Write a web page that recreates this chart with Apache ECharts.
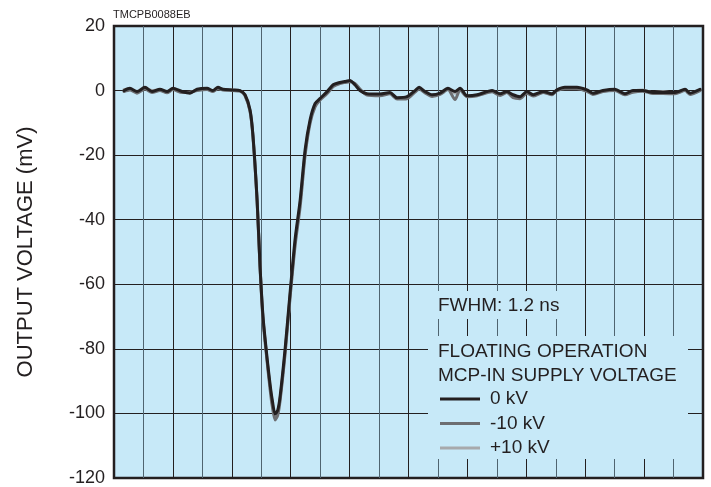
<!DOCTYPE html>
<html>
<head>
<meta charset="utf-8">
<script src="https://cdn.jsdelivr.net/npm/echarts@6/dist/echarts.min.js"></script>
<style>
html,body{margin:0;padding:0;background:#fff;}
#c{width:711px;height:487px;}
</style>
</head>
<body>
<div id="c"></div>
<script>
// time (ns) samples
var times = [0.34,0.54,0.78,1.05,1.29,1.56,1.80,2.00,2.31,2.58,2.82,3.16,3.36,3.53,3.70,4.04,4.28,4.45,4.62,4.72,4.86,4.96,5.06,5.20,5.30,5.37,5.47,5.56,5.64,5.81,5.98,6.15,6.32,6.49,6.66,6.83,6.99,7.23,7.44,7.67,7.84,8.01,8.18,8.35,8.59,9.03,9.37,9.61,9.95,10.22,10.36,10.56,10.80,11.07,11.34,11.58,11.75,11.99,12.33,12.84,13.11,13.34,13.55,13.79,14.02,14.23,14.57,14.87,15.04,15.31,15.72,16.06,16.26,16.60,17.01,17.35,17.62,17.96,18.30,18.64,19.05,19.39,19.56,19.90];
// output voltage (mV)
var v0kV = [0,0.7,-0.3,1,-0.3,0.4,-0.3,0.7,-0.3,-0.8,0.4,0.7,0,1,0.4,0.2,0,-1.3,-6,-14,-34,-54.5,-70,-83,-91,-95.6,-100.2,-99,-94.7,-80,-62.5,-46,-34,-18.3,-9,-4,-2.5,-0.4,1.8,2.5,2.8,3.1,1.8,0,-1,-1.1,-0.6,-2.2,-1.9,0,1,-0.3,-1.3,-0.8,0.7,-0.3,0.7,-1.6,-1.3,0,-1,-0.3,-1.3,-1.9,-0.3,-1.3,-0.3,-1,0.2,1,1,0.2,-0.8,0,0.4,-1,0,0,-0.6,-0.6,-0.6,0.4,-0.8,0.4];
var vMinus10kV = [-0.3,0.2,-0.8,0.5,-0.6,0,-0.7,0.3,-0.6,-0.5,0,0.3,-0.3,0.6,0.2,0,-0.2,-1.6,-6.5,-14.5,-34.5,-55,-71,-84,-92.5,-97.5,-102,-100.5,-96,-81.5,-64,-48,-36,-20,-10,-5,-3,-1,1.2,2.2,2.5,2.7,2.2,0.5,-1.4,-1.6,-1,-2.6,-2.5,-0.5,0.5,-0.7,-1.8,-1.2,0.3,-2.8,0.2,-1.9,-1.6,-0.4,-1.5,-0.6,-2.2,-2.5,-0.8,-1.7,-0.6,-1.3,0,0.6,0.6,-0.2,-1.2,-0.3,0,-1.3,-0.5,-0.2,-0.9,-0.9,-1,0,-1.2,0];
var vPlus10kV = [0.3,0.4,-0.5,0.7,0,0.2,-0.5,0.5,-0.5,-0.6,0.2,0.4,-0.2,0.8,0.3,0.1,-0.1,-1.5,-6.3,-14.3,-34.3,-54.8,-70.5,-83.5,-91.8,-96.5,-101,-99.8,-95.5,-81,-63.5,-47,-35,-19.3,-9.6,-4.5,-2.8,-0.7,1.5,2.3,2.6,2.9,2,0.3,-1.2,-1.3,-0.8,-2.4,-2.2,-0.3,0.7,-0.5,-1.5,-1,0.5,-0.8,0.5,-1.8,-1.5,-0.2,-1.2,-0.5,-1.8,-2.2,-0.6,-1.5,-0.5,-1.1,0.1,0.8,0.8,0,-1,-0.2,0.2,-1.1,-0.2,0.2,-0.7,-0.4,-0.8,0.2,-1,0.2];
var yTicks = [-120,-100,-80,-60,-40,-20,0,20];
var seriesNames = ['0 kV','-10 kV','+10 kV'];
var seriesColors = ['#231f20','#6d6e71','#a7a9ac'];

function pairs(vals){ return times.map(function(t,i){ return [t, vals[i]]; }); }

var chart = echarts.init(document.getElementById('c'), null, {renderer:'canvas'});
var font = 'Liberation Sans, Arial, Helvetica, sans-serif';
var txtColor = '#231f20';
var bg = '#c7e9f8';

var legendTop = 399, legendStep = 24.5;
var legendGraphics = [];
seriesNames.forEach(function(n,i){
  var y = legendTop + i*legendStep;
  legendGraphics.push({type:'line', z:101, shape:{x1:440,y1:y,x2:480,y2:y}, style:{stroke:seriesColors[i], lineWidth:3}});
  legendGraphics.push({type:'text', z:101, x:490, y:y, style:{text:n, font:'19px '+font, fill:txtColor, textVerticalAlign:'middle'}});
});

function lineSeries(idx, vals, z){
  return {name:seriesNames[idx], type:'line', data:pairs(vals), showSymbol:false,
    smooth:0.25,
    lineStyle:{color:seriesColors[idx], width:3, join:'round', cap:'round'}, z:z};
}

var option = {
  animation:false,
  backgroundColor:'#fff',
  grid:{left:114, top:26, right:8, bottom:8, show:true, backgroundColor:bg, borderColor:'#231f20', borderWidth:2.5, z:0},
  xAxis:{type:'value', min:0, max:20, interval:1,
    axisLine:{show:false}, axisTick:{show:false}, axisLabel:{show:false},
    splitLine:{show:true, lineStyle:{color:['#231f20','#4f6470'], width:1}}},
  yAxis:{type:'value', min:yTicks[0], max:yTicks[yTicks.length-1], interval:20,
    name:'OUTPUT VOLTAGE (mV)', nameLocation:'middle', nameGap:77,
    nameTextStyle:{fontFamily:font, fontSize:22, color:txtColor},
    axisLine:{show:false}, axisTick:{show:false},
    axisLabel:{fontFamily:font, fontSize:18, color:txtColor, margin:9},
    splitLine:{show:true, lineStyle:{color:'#231f20', width:1}}},
  series:[
    lineSeries(2, vPlus10kV, 3),
    lineSeries(1, vMinus10kV, 4),
    lineSeries(0, v0kV, 5)
  ],
  graphic:[
    {type:'text', z:101, x:113, y:15, style:{text:'TMCPB0088EB', font:'11px '+font, fill:txtColor, textVerticalAlign:'middle'}},
    {type:'rect', z:100, shape:{x:430, y:291, width:142, height:28}, style:{fill:bg}},
    {type:'rect', z:100, shape:{x:428, y:336, width:260, height:123}, style:{fill:bg}},
    {type:'text', z:101, x:438, y:306, style:{text:'FWHM: 1.2 ns', font:'19px '+font, fill:txtColor, textVerticalAlign:'middle'}},
    {type:'text', z:101, x:438, y:352, style:{text:'FLOATING OPERATION', font:'19px '+font, fill:txtColor, textVerticalAlign:'middle'}},
    {type:'text', z:101, x:438, y:376, style:{text:'MCP-IN SUPPLY VOLTAGE', font:'19px '+font, fill:txtColor, textVerticalAlign:'middle'}}
  ].concat(legendGraphics)
};
chart.setOption(option);
</script>
</body>
</html>
